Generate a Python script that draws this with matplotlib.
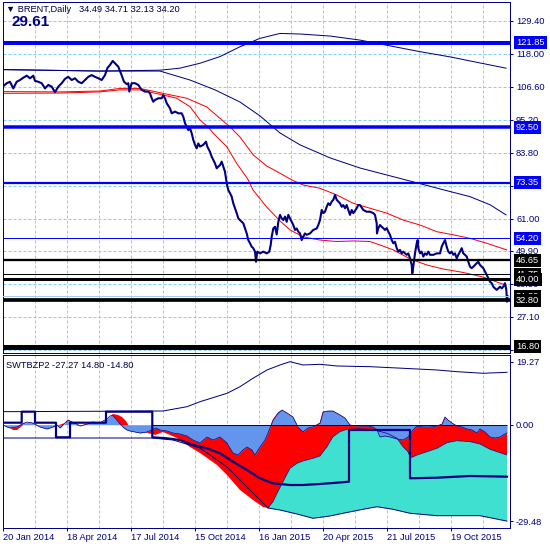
import matplotlib
matplotlib.use("Agg")
import matplotlib.pyplot as plt
import matplotlib.transforms as mtransforms
import numpy as np

plt.rcParams['font.family'] = ['Liberation Sans', 'DejaVu Sans']

NAVY = '#000080'
GRID = '#87CEFA'

# ---------------- main panel data ----------------
bar = [2.7, 6.7, 10, 13.3, 16.7, 20, 23.3, 26.7, 30, 33.3, 35, 38.3, 41.7, 45, 48.3, 51.7, 55, 58.3,
       61.7, 65, 68.3, 71.7, 75, 78.3, 81.7, 85, 88.3, 91.7, 95, 98.3, 101.7, 105, 107.3, 110, 112.7,
       115, 118.3, 121.7, 124, 126.7, 128.3, 129.3, 131.7, 135, 138.3, 141.7, 145, 148.3, 150, 151.7,
       153.3, 155, 158.3, 161.7, 163.3, 165, 166.7, 170, 171.7, 175, 178.3, 181.7, 183.3, 185, 186.7,
       188.3, 190, 191.7, 193.3, 195, 196.7, 198.3, 200, 203.3, 206, 207.3, 210, 211.7, 213.3, 215,
       216.7, 218.3, 220, 221.7, 223.3, 225, 226.7, 228.3, 230, 231.7, 233.3, 235, 236.7, 238.3, 240,
       243.3, 246.7, 248.3, 250, 251.7, 253.3, 255, 256, 257.3, 260, 263.3, 266.7, 269.3, 270.7, 271.7,
       273.3, 275, 276.7, 278.3, 280, 281.7, 283.3, 285, 286.7, 288.3, 290, 291.7, 293.3, 295, 296.7,
       298.3, 300, 301.7, 303.3, 305, 306.7, 310, 313.3, 316.7, 318.3, 320, 321.7, 323.3, 325, 326.7,
       328.3, 330, 331.7, 333.3, 335, 336.7, 338.3, 340, 341.7, 343.3, 345, 346.7, 348.3, 350, 351.7,
       353.3, 356.7, 358.3, 360, 363.3, 366.7, 370, 373.3, 375, 376.7, 377, 378.3, 380, 381.7, 383.3,
       385, 386.7, 388.3, 390, 391.7, 393.3, 395, 396.7, 398.3, 400, 401.7, 403.3, 405, 406.7, 408.3,
       410, 411.7, 412.3, 413.3, 415, 416.7, 417.7, 418.3, 420, 421.7, 423.3, 425, 426.7, 428.3, 430,
       433.3, 436.7, 440, 441.7, 443.3, 445, 446.7, 448.3, 450, 451.7, 453.3, 455, 456.7, 458.3, 460,
       461.7, 463.3, 465, 466.7, 468.3, 470, 471.7, 473.3, 475, 476.7, 478.3, 480, 481.7, 483.3, 485,
       486.7, 488.3, 490, 491.7, 493.3, 495, 496.7, 498.3, 500, 501.7, 503.3, 505, 506.3, 507, 507.5]
close = [106.6, 107.8, 108.3, 106.0, 108.3, 108.9, 109.7, 110.4, 109.5, 110.4, 108.6, 108.3, 107.8,
         106.0, 107.2, 106.6, 104.7, 106.6, 107.8, 109.3, 110.0, 108.9, 109.5, 108.3, 107.8, 108.9,
         110.0, 110.6, 110.0, 109.5, 108.9, 110.6, 113.0, 114.1, 115.5, 114.7, 113.5, 110.5, 108.3,
         107.5, 107.8, 104.9, 107.8, 107.8, 107.2, 105.5, 104.9, 104.9, 104.3, 102.6, 101.4, 102.0,
         102.6, 102.6, 103.7, 102.6, 100.9, 99.1, 97.4, 98.0, 97.4, 97.4, 96.2, 94.0, 92.8, 91.6, 92.2,
         90.5, 88.2, 86.5, 85.3, 87.0, 85.9, 86.5, 87.6, 85.9, 84.1, 82.4, 81.3, 80.1, 78.4, 79.0, 79.5,
         80.7, 79.0, 77.2, 73.2, 70.9, 69.8, 68.6, 66.3, 64.6, 62.9, 61.1, 60.5, 59.4, 55.9, 53.6, 52.5,
         51.3, 50.8, 49.6, 46.1, 49.6, 49.0, 49.6, 49.0, 49.6, 51.9, 54.8, 57.6, 58.2, 55.5, 59.9, 62.3,
         61.1, 60.5, 61.7, 59.9, 62.3, 61.1, 59.9, 58.8, 57.1, 57.6, 56.5, 55.9, 53.6, 54.8, 55.9, 55.4,
         55.9, 57.1, 57.6, 58.8, 60.5, 64.0, 62.9, 63.4, 65.1, 66.3, 65.7, 66.9, 67.5, 69.2, 67.5, 66.9,
         66.3, 65.1, 65.7, 64.6, 65.7, 64.0, 62.3, 64.0, 62.9, 64.6, 65.7, 65.7, 64.0, 63.4, 63.4, 62.9,
         62.3, 59.4, 55.9, 57.7, 58.8, 58.2, 57.7, 57.1, 57.7, 56.5, 55.4, 53.6, 52.5, 53.0, 50.8, 49.6,
         50.2, 49.0, 49.6, 49.0, 48.5, 49.0, 47.3, 45.0, 42.1, 44.4, 49.0, 52.5, 53.6, 50.8, 49.0, 49.6,
         47.9, 49.0, 48.5, 49.6, 48.5, 48.5, 49.0, 49.0, 51.3, 52.5, 53.6, 51.3, 49.6, 49.0, 49.6, 48.5,
         49.0, 47.3, 48.5, 49.6, 50.8, 49.0, 48.5, 47.9, 46.1, 44.4, 43.9, 44.4, 45.0, 45.6, 46.1, 45.0,
         44.4, 43.9, 42.7, 41.6, 40.4, 39.2, 38.7, 37.5, 36.9, 36.4, 36.9, 37.5, 36.9, 37.5, 38.7, 36.4,
         32.3, 34.2]

ma_fast_bar = [3, 60, 100, 120, 140, 163.3, 176.7, 190, 200, 208, 213.3, 226.7, 236.7, 248.3, 253,
               266.7, 280, 290, 303.3, 320, 336.7, 353.3, 370, 380, 393.3, 410, 426.7, 443.3, 463.3,
               483.3, 506]
ma_fast = [104.3, 104.4, 104.8, 105.5, 105.5, 103.7, 102.6, 99.7, 95.1, 92.7, 90.5, 85.9, 80.1, 74.4,
           70.9, 65.0, 60.2, 57.1, 54.7, 53.6, 53.1, 53.3, 53.1, 51.9, 50.2, 47.1, 45.0, 43.6, 42.4,
           40.8, 38.0]

ma_slow_bar = [3, 60, 100, 120, 140, 163, 186.7, 206.7, 230, 240, 253.3, 266.7, 280, 291.7, 303.3,
               320, 336.7, 353.3, 370, 386.7, 403.3, 420, 436.7, 453.3, 470, 486.7, 506.7]
ma_slow = [104.9, 104.8, 105.1, 106.0, 106.0, 104.3, 102.6, 99.6, 92.7, 89.2, 83.0, 79.2, 76.7, 74.4,
           72.6, 71.5, 69.2, 66.3, 64.6, 62.9, 60.5, 58.8, 56.5, 55.4, 54.2, 52.5, 50.2]

env_up_bar = [3, 100, 160, 180, 200, 220, 240, 260, 280, 300, 330, 360, 390, 420, 450, 480, 506]
env_up = [112.5, 112.0, 112.3, 113.0, 114.7, 117.0, 120.4, 123.3, 125.0, 124.8, 124.1, 122.7, 120.7,
          118.7, 116.9, 114.8, 113.0]
env_dn_bar = [3, 100, 160, 190, 215, 240, 260, 280, 300, 330, 360, 390, 420, 443, 470, 490, 506]
env_dn = [112.5, 112.0, 112.0, 108.9, 105.5, 101.3, 96.5, 90.6, 86.5, 82.0, 78.5, 75.8, 73.1, 71.0,
          68.6, 65.8, 62.3]

levels = [121.85, 92.50, 73.35, 54.20, 46.65, 41.75, 40.00, 34.20, 32.80, 16.80]
level_labels = ['121.85', '92.50', '73.35', '54.20', '46.65', '41.75', '40.00', '34.20', '32.80', '16.80']
level_colors = ['#0000FF', '#0000FF', '#0000FF', '#0000FF', 'black', 'black', 'black', '#A8CCEC',
                'black', 'black']
level_px = [4, 3.5, 2.2, 1, 2.3, 1, 3, 1, 3.7, 5]

price_ticks = [129.40, 118.00, 106.60, 95.20, 83.80, 72.40, 61.00, 49.90, 38.50, 27.10, 15.70]
hidden_ticks = [72.40]   # fully covered by the 73.35 label in the reference

date_bars = [3.3, 67.3, 131.3, 195.3, 259.3, 323.3, 387.3, 451.3]
date_labels = ['20 Jan 2014', '18 Apr 2014', '17 Jul 2014', '15 Oct 2014', '16 Jan 2015',
               '20 Apr 2015', '21 Jul 2015', '19 Oct 2015']

# ---------------- sub panel data (SWTBZP2) ----------------
osc_bar = [3, 7, 10, 17, 22, 27, 33, 40, 47, 53, 57, 60, 65, 68, 72, 77, 80, 87, 93, 100, 103, 107,
           110, 113, 116, 120, 124, 127, 130, 135, 140, 147, 152, 156, 160, 167, 173, 180, 187, 193,
           200, 207, 213, 220, 227, 233, 238, 243, 247, 252, 255, 260, 265, 268, 273, 278, 282, 287,
           293, 298, 303, 308, 313, 320, 323, 328, 333, 340, 345, 350, 357, 367, 373, 377, 380, 385,
           390, 397, 403, 408, 413, 417, 423, 430, 437, 442, 445, 448, 452, 457, 462, 467, 472, 477,
           480, 485, 490, 495, 500, 503, 507]
osc = [-0.09, -0.70, -1.01, -0.70, 0.21, 0.83, 0.52, -0.70, -1.31, -0.70, -0.09, -1.01, 0.52, 1.44,
       0.83, 0.21, -0.40, 0.21, 0.83, 0.52, 1.13, 1.74, 2.66, 2.66, 1.74, 0.21, -1.01, -1.62, -1.93,
       -2.23, -2.54, -2.23, -1.62, -1.01, -1.62, -1.93, -2.54, -2.84, -3.46, -4.68, -5.60, -3.76,
       -4.68, -3.76, -5.60, -8.65, -9.27, -7.74, -6.82, -7.74, -9.27, -6.82, -4.68, -2.54, 1.44,
       3.58, 4.49, 3.58, 2.35, -0.70, -2.23, -1.01, -0.70, 0.52, 3.88, 4.19, 4.19, 2.97, 2.05,
       -0.09, -0.40, -0.40, -0.70, -1.62, -3.76, -3.46, -3.76, -4.37, -4.68, -3.76, -1.62, -0.40,
       -0.70, -0.70, -0.40, 0.21, 2.35, 1.44, 0.52, -0.40, -0.70, -1.31, -1.62, -2.54, -1.31, -2.23,
       -3.76, -4.07, -3.76, -3.15, -2.54]

red_bar = [3, 10, 13, 17, 22, 27, 40, 53, 65, 80, 100, 107, 110, 113, 118, 122, 126, 130, 135, 140,
           147, 152, 155, 163, 170, 177, 190, 200, 217, 227, 240, 253, 263, 268]
red_low = [-0.09, -1.01, -1.62, -1.62, -0.40, 0.83, -0.70, -0.70, 0.52, -0.40, 0.52, 1.74, 2.66,
           3.27, 2.97, 2.35, 1.13, -1.01, -1.93, -2.23, -2.54, -2.84, -3.15, -2.23, -3.15, -4.07,
           -6.82, -8.65, -12.32, -15.38, -19.97, -23.03, -25.17, -25.47]

tq_bar = [268, 273, 277, 283, 290, 297, 303, 313, 320, 327, 333, 340, 347, 357, 370, 377, 387, 397,
          403, 408, 410, 412, 417, 427, 437, 447, 457, 470, 480, 490, 500, 507]
tq_top = [-25.47, -23.55, -20.98, -17.43, -13.33, -11.80, -11.10, -10.28, -9.57, -6.73, -3.67, -2.14,
          -1.41, -1.31, -1.41, -1.83, -2.63, -4.16, -6.73, -8.26, -9.79, -9.97, -9.27, -8.26, -7.22,
          -5.50, -4.89, -5.20, -5.90, -7.52, -8.56, -9.27]

band_up_bar = [3, 163, 187, 200, 227, 240, 253, 267, 280, 290, 303, 320, 337, 370, 403, 437, 457, 483, 507]
band_up = [3.98, 4.19, 5.50, 7.03, 9.60, 11.62, 14.19, 16.73, 18.26, 19.27, 18.26, 18.47, 17.95, 17.74,
           17.25, 16.73, 16.21, 15.72, 16.02]
band_dn_bar = [3, 152, 173, 200, 227, 250, 268, 280, 297, 313, 330, 343, 363, 377, 393, 410, 437, 480, 507]
band_dn = [-4.07, -4.07, -4.68, -7.13, -12.94, -19.97, -25.47, -26.09, -27.31, -28.62, -27.92, -27.09,
           -25.87, -25.08, -25.87, -27.09, -27.83, -27.83, -29.48]

step_bar = [3, 21.7, 21.7, 35, 35, 56, 56, 70, 70, 106, 106, 152.3, 152.3, 167, 180, 193, 207, 220,
            233, 247, 260, 273, 290, 303, 320, 337, 349, 349, 410, 410, 437, 470, 507]
step_val = [0.61, 0.61, 3.98, 3.98, 0.61, 0.61, -3.85, -3.85, 0.61, 0.61, 3.98, 3.98, -3.85, -4.16,
            -4.68, -6.21, -7.22, -8.75, -11.31, -13.85, -16.39, -17.92, -18.44, -18.44, -18.13, -17.74,
            -17.43, -1.62, -1.62, -16.39, -16.21, -15.69, -15.90]

sub_ticks = [19.27, 0.00, -29.48]

# ---------------- layout ----------------
W, H = 550, 550
PX = 0.72  # points per pixel at dpi 100


def rect(l, t, r, b):
    return [l / W, 1 - b / H, (r - l) / W, (b - t) / H]


fig = plt.figure(figsize=(5.5, 5.5), dpi=100)
fig.patch.set_facecolor('white')
ax = fig.add_axes(rect(2.5, 2, 510.5, 352.5))
axs = fig.add_axes(rect(2.5, 355, 510.5, 528.3))

grid_x = [3.3 + 32 * k for k in range(1, 16)]
FS = 6.7

for a in (ax, axs):
    a.set_xlim(2.5, 510.5)
    for s in a.spines.values():
        s.set_color(NAVY)
        s.set_linewidth(PX)
    for gx in grid_x:
        a.axvline(gx, color=GRID, lw=PX, ls=(0, (3, 2)), zorder=0)
    a.yaxis.tick_right()
    a.tick_params(axis='y', direction='out', length=2.2, pad=1.8, labelsize=FS,
                  colors=NAVY, width=PX)

# main panel
ax.set_ylim(14.75, 135.86)
for gy in price_ticks:
    ax.axhline(gy, color=GRID, lw=PX, ls=(0, (3, 2)), zorder=0)
ax.set_yticks(price_ticks)
ax.set_yticklabels(['' if v in hidden_ticks else '%.2f' % v for v in price_ticks])
ax.set_xticks([])

ax.plot(env_up_bar, env_up, color=NAVY, lw=PX, zorder=2)
ax.plot(env_dn_bar, env_dn, color=NAVY, lw=PX, zorder=2)
ax.plot(ma_slow_bar, ma_slow, color='#FF0000', lw=PX, zorder=2)
ax.plot(ma_fast_bar, ma_fast, color='#FF0000', lw=PX, zorder=2)
ax.plot(bar, close, color=NAVY, lw=1.5, zorder=3)

blend = mtransforms.blended_transform_factory(ax.transAxes, ax.transData)
for i, (lv, lab, col, w) in enumerate(zip(levels, level_labels, level_colors, level_px)):
    ax.axhline(lv, color=col, lw=w * PX, zorder=4)
    bg = 'black' if col == '#A8CCEC' else col
    ax.text((516 - 2.5) / 508, lv, lab, transform=blend, color='white', fontsize=FS,
            va='center', ha='left', clip_on=False, zorder=10 + i,
            bbox=dict(boxstyle='square,pad=0.22', fc=bg, ec='none'))

# sub panel
axs.set_ylim(-31.68, 21.31)
axs.set_yticks(sub_ticks)
axs.set_yticklabels(['%.2f' % v for v in sub_ticks])
axs.set_xticks(date_bars)
axs.set_xticklabels(date_labels)
axs.tick_params(axis='x', direction='out', length=2.2, pad=1.5, labelsize=FS, colors=NAVY, width=PX)
for lbl in axs.get_xticklabels():
    lbl.set_ha('left')

# red area: between oscillator and the lower red / turquoise boundary
red_bottom_x = np.concatenate([red_bar, tq_bar[1:]])
red_bottom_y = np.concatenate([red_low, tq_top[1:]])
axs.fill(np.concatenate([osc_bar, red_bottom_x[::-1]]),
         np.concatenate([osc, red_bottom_y[::-1]]), color='#FF0000', lw=0, zorder=2)

# turquoise area
bdx = np.array(band_dn_bar)
bdy = np.array(band_dn)
m = bdx >= tq_bar[0]
axs.fill(np.concatenate([tq_bar, bdx[m][::-1]]), np.concatenate([tq_top, bdy[m][::-1]]),
         color='#40E0D0', lw=0, zorder=3)

# blue oscillator area
axs.fill_between(osc_bar, 0, osc, color='#6495ED', lw=0, zorder=4)
axs.plot(osc_bar, osc, color=NAVY, lw=0.5, zorder=5)
axs.plot(tq_bar, tq_top, color=NAVY, lw=0.5, zorder=5)
axs.hlines(0, 152, 507, color=NAVY, lw=PX, zorder=5)
axs.plot(band_up_bar, band_up, color=NAVY, lw=PX, zorder=5)
axs.plot(band_dn_bar, band_dn, color=NAVY, lw=PX, zorder=5)
axs.plot(step_bar, step_val, color=NAVY, lw=2.2 * PX, zorder=6)

# texts
fig.text(6 / W, 1 - 10 / H, '\u25BC BRENT,Daily   34.49 34.71 32.13 34.20', fontsize=6.7,
         color='#000040', va='center', ha='left')
fig.text(11 / W, 1 - 21.5 / H, '29.61', fontsize=11, weight='bold', color=NAVY,
         va='center', ha='left')
fig.text(6.5 / W, 1 - 365 / H, 'SWTBZP2 -27.27 14.80 -14.80', fontsize=6.7, color='#000040',
         va='center', ha='left')

fig.savefig('out.png', dpi=100, facecolor='white')
